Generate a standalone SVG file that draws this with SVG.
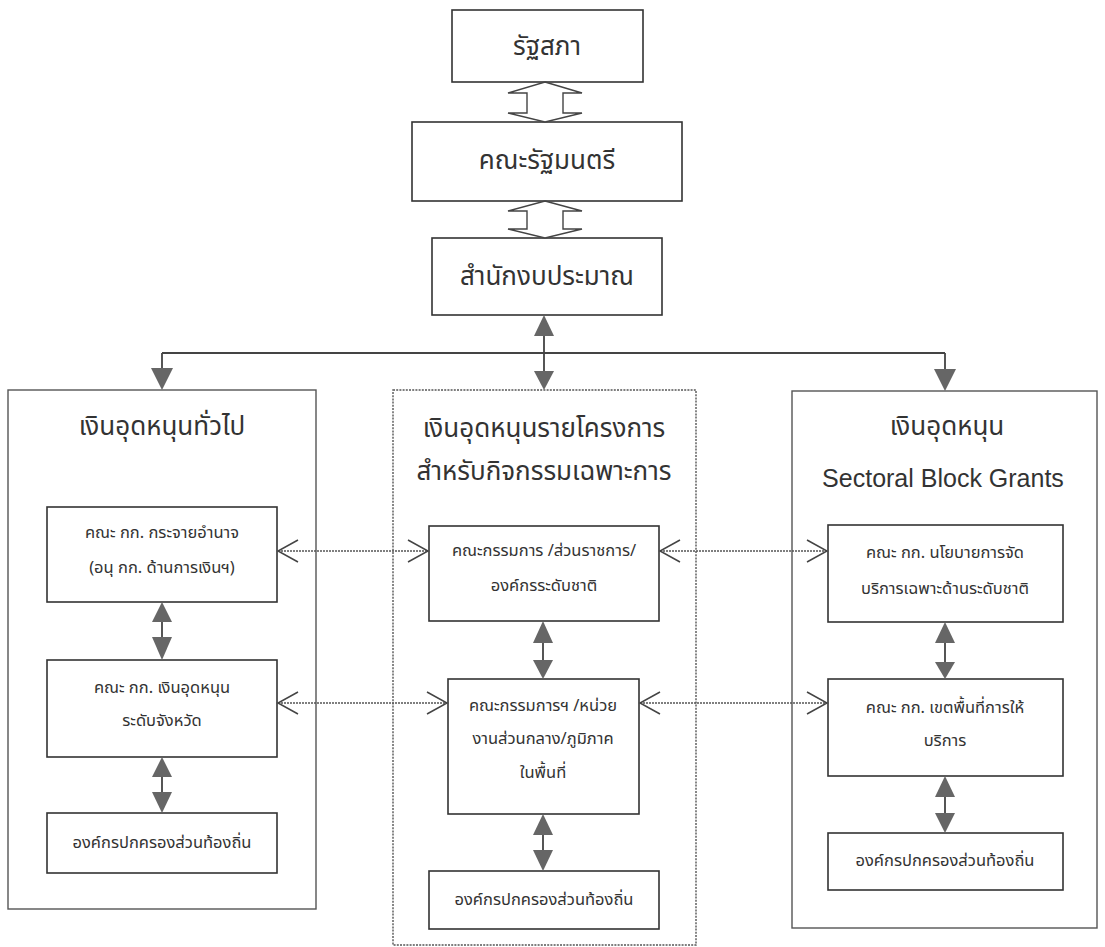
<svg xmlns="http://www.w3.org/2000/svg" width="1105" height="947" viewBox="0 0 1105 947">
<defs>
<style>
.bx{fill:#fff;stroke:#333;stroke-width:1.6}
.col{fill:#fff;stroke:#555;stroke-width:1.4}
.dcol{fill:#fff;stroke:#555;stroke-width:1.4;stroke-dasharray:2 1.2}
.t{font-family:'Noto Sans Thai','Noto Sans','DejaVu Sans','Liberation Sans',sans-serif;fill:#333;text-anchor:middle}
.big{font-size:26px}
.hd{font-size:26px}
.sm{font-size:16.5px}
.en{font-family:'Liberation Sans',Arial,sans-serif;font-size:25px;fill:#333;text-anchor:middle}
.ln{stroke:#444;stroke-width:1.8;fill:none}
.dot{stroke:#555;stroke-width:1.4;stroke-dasharray:2 1;fill:none}
.chev{stroke:#444;stroke-width:1.5;fill:none}
.head{fill:#666;stroke:none}
.hollow{fill:#fff;stroke:#444;stroke-width:1.4}
</style>
</defs>
<rect width="1105" height="947" fill="#fff"/>

<g id="col-general"><rect class="col" x="8" y="390" width="308" height="519"/><text class="t hd" x="162" y="435">เงินอุดหนุนทั่วไป</text></g>
<g id="col-project"><rect class="dcol" x="393" y="390" width="303" height="555"/><text class="t hd" x="544" y="437">เงินอุดหนุนรายโครงการ</text><text class="t hd" x="544" y="480">สำหรับกิจกรรมเฉพาะการ</text></g>
<g id="col-sectoral"><rect class="col" x="792" y="391" width="305" height="537"/><text class="t hd" x="947" y="435">เงินอุดหนุน</text><text class="en" x="943" y="487">Sectoral Block Grants</text></g>

<g id="parliament"><rect class="bx" x="452" y="10" width="191" height="72"/><text class="t big" x="547" y="55">รัฐสภา</text></g>
<g id="cabinet"><rect class="bx" x="412" y="122" width="270" height="79"/><text class="t big" x="547" y="169">คณะรัฐมนตรี</text></g>
<g id="budget"><rect class="bx" x="432" y="238" width="230" height="77"/><text class="t big" x="547" y="285">สำนักงบประมาณ</text></g>

<g id="g1"><rect class="bx" x="47" y="507" width="230" height="95"/><text class="t sm" x="162" y="538">คณะ กก. กระจายอำนาจ</text><text class="t sm" x="162" y="573">(อนุ กก. ด้านการเงินฯ)</text></g>
<g id="g2"><rect class="bx" x="47" y="660" width="230" height="97"/><text class="t sm" x="162" y="693">คณะ กก. เงินอุดหนุน</text><text class="t sm" x="162" y="726">ระดับจังหวัด</text></g>
<g id="g3"><rect class="bx" x="47" y="813" width="230" height="60"/><text class="t sm" x="162" y="848">องค์กรปกครองส่วนท้องถิ่น</text></g>

<g id="p1"><rect class="bx" x="429" y="526" width="230" height="95"/><text class="t sm" x="544" y="556">คณะกรรมการ /ส่วนราชการ/</text><text class="t sm" x="544" y="591">องค์กรระดับชาติ</text></g>
<g id="p2"><rect class="bx" x="448" y="679" width="191" height="135"/><text class="t sm" x="543" y="711">คณะกรรมการฯ /หน่วย</text><text class="t sm" x="543" y="744">งานส่วนกลาง/ภูมิภาค</text><text class="t sm" x="543" y="778">ในพื้นที่</text></g>
<g id="p3"><rect class="bx" x="429" y="871" width="230" height="58"/><text class="t sm" x="544" y="905">องค์กรปกครองส่วนท้องถิ่น</text></g>

<g id="s1"><rect class="bx" x="828" y="525" width="235" height="97"/><text class="t sm" x="945" y="558">คณะ กก. นโยบายการจัด</text><text class="t sm" x="945" y="594">บริการเฉพาะด้านระดับชาติ</text></g>
<g id="s2"><rect class="bx" x="828" y="679" width="235" height="97"/><text class="t sm" x="945" y="713">คณะ กก. เขตพื้นที่การให้</text><text class="t sm" x="945" y="746">บริการ</text></g>
<g id="s3"><rect class="bx" x="828" y="833" width="235" height="57"/><text class="t sm" x="945" y="866">องค์กรปกครองส่วนท้องถิ่น</text></g>

<g id="connectors">
<polygon class="hollow" points="545,82 582,93 563,93 563,113 582,113 545,122 508,113 527,113 527,93 508,93"/>
<polygon class="hollow" points="545,201 582,211 563,211 563,229 582,229 545,238 508,229 527,229 527,211 508,211"/>

<path class="ln" d="M544,334 V372 M162,353 H945 M162,353 V370 M945,353 V370"/>
<polygon class="head" points="544,315 554,336 534,336"/>
<polygon class="head" points="544,390 554,371 534,371"/>
<polygon class="head" points="162,390 173,368 151,368"/>
<polygon class="head" points="945,391 956,369 934,369"/>

<path class="ln" d="M162,620 V640 M162,775 V795 M543,641 V662 M543,833 V853 M945,641 V664 M945,795 V815"/>
<polygon class="head" points="162,602 172,622 152,622"/><polygon class="head" points="162,660 172,637 152,637"/>
<polygon class="head" points="162,757 172,777 152,777"/><polygon class="head" points="162,813 172,792 152,792"/>
<polygon class="head" points="543,621 553,643 533,643"/><polygon class="head" points="543,679 553,660 533,660"/>
<polygon class="head" points="543,814 553,835 533,835"/><polygon class="head" points="543,871 553,850 533,850"/>
<polygon class="head" points="945,622 955,643 935,643"/><polygon class="head" points="945,679 955,662 935,662"/>
<polygon class="head" points="945,776 955,797 935,797"/><polygon class="head" points="945,833 955,813 935,813"/>

<path class="dot" d="M278,551 H428 M660,551 H827 M278,703 H447 M640,703 H827"/>
<path class="chev" d="M298,540 L278,551 L298,562 M408,540 L428,551 L408,562 M680,540 L660,551 L680,562 M807,540 L827,551 L807,562"/>
<path class="chev" d="M298,692 L278,703 L298,714 M427,692 L447,703 L427,714 M660,692 L640,703 L660,714 M807,692 L827,703 L807,714"/>
</g>
</svg>
